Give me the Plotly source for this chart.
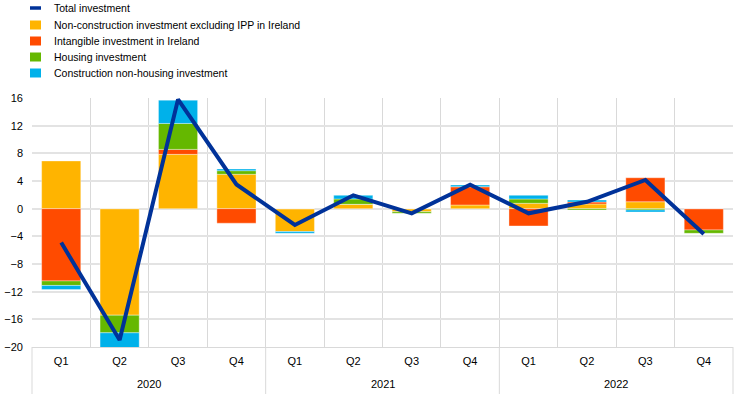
import plotly.graph_objects as go

years = ["2020"] * 4 + ["2021"] * 4 + ["2022"] * 4
quarters = ["Q1", "Q2", "Q3", "Q4"] * 3
year_labels = ["2020", "2021", "2022"]

total = [-4.9, -19.0, 15.8, 3.5, -2.35, 1.93, -0.67, 3.47, -0.67, 1.0, 4.15, -3.65]
non_construction = [6.9, -15.4, 7.85, 4.97, -3.3, 0.63, -0.43, 0.53, 0.78, 0.67, 1.0, 0.0]
intangible = [-10.45, 0.0, 0.72, -2.1, 0.0, 0.0, 0.0, 2.65, -2.5, 0.29, 3.47, -3.08]
housing = [-0.65, -2.55, 3.75, 0.52, 0.0, 0.77, -0.23, 0.0, 0.62, -0.19, -0.19, -0.48]
construction = [-0.6, -2.2, 3.37, 0.25, -0.25, 0.53, 0.0, 0.25, 0.53, 0.29, -0.29, 0.0]

names = [
    "Total investment",
    "Non-construction investment excluding IPP in Ireland",
    "Intangible investment in Ireland",
    "Housing investment",
    "Construction non-housing investment",
]
colors = ["#003299", "#FFB400", "#FF4B00", "#65B800", "#00B1EA"]

x = [f"{y} {q}" for y, q in zip(years, quarters)]

fig = go.Figure()
for vals, nm, col in zip([non_construction, intangible, housing, construction], names[1:], colors[1:]):
    fig.add_trace(go.Bar(x=x, y=vals, name=nm,
                         marker=dict(color=col, line=dict(width=0.8, color="rgba(255,255,255,0.45)")),
                         showlegend=False, hoverinfo="skip"))
fig.add_trace(go.Scatter(x=x, y=total, name=names[0], mode="lines",
                         line=dict(color=colors[0], width=4), showlegend=False))

fam = "Liberation Sans, Arial, sans-serif"
tickfont = dict(family=fam, size=11, color="#000000")
legfont = dict(family=fam, size=10.5, color="#000000")

# plot area in pixels: left 32, right 733, top 98, bottom 347
PL, PR, PT, PB = 32, 733, 98, 347
W, H = PR - PL, PB - PT


def px_x(p):
    return (p - PL) / W


def px_y(p):
    return (PB - p) / H


shapes = []
annotations = []
# manual legend
leg_rows = [8, 25, 41, 57, 73]
for i, (nm, col) in enumerate(zip(names, colors)):
    yc = leg_rows[i]
    if i == 0:
        shapes.append(dict(type="line", xref="paper", yref="paper",
                           x0=px_x(30), x1=px_x(41), y0=px_y(yc), y1=px_y(yc),
                           line=dict(color=col, width=3.5)))
    else:
        shapes.append(dict(type="rect", xref="paper", yref="paper",
                           x0=px_x(30), x1=px_x(41), y0=px_y(yc - 4.5), y1=px_y(yc + 4.5),
                           fillcolor=col, line=dict(width=0)))
    annotations.append(dict(text=nm, xref="paper", yref="paper", x=px_x(52), y=px_y(yc),
                            xanchor="left", yanchor="middle", showarrow=False, font=legfont))

# year labels and dividers
for k, yl in enumerate(year_labels):
    annotations.append(dict(text=yl, xref="paper", yref="paper", x=(k * 4 + 2) / 12,
                            y=px_y(383.5), xanchor="center", yanchor="middle",
                            showarrow=False, font=tickfont))
for k in range(4):
    shapes.append(dict(type="line", xref="paper", yref="paper", x0=k / 3, x1=k / 3,
                       y0=0, y1=px_y(394), line=dict(color="#d9d9d9", width=1)))

fig.update_layout(
    width=742, height=394,
    margin=dict(l=PL, r=742 - PR, t=PT, b=394 - PB, autoexpand=False),
    barmode="relative",
    bargap=0.33,
    plot_bgcolor="white", paper_bgcolor="white",
    font=tickfont,
    showlegend=False,
    shapes=shapes,
    annotations=annotations,
)
fig.update_yaxes(range=[-20, 16], dtick=4, tick0=0, gridcolor="#e3e3e3", gridwidth=1.5,
                 zeroline=False, showline=False, ticks="", tickfont=tickfont,
                 ticklabelstandoff=8)
fig.update_xaxes(type="category", tickson="boundaries", showgrid=True, gridcolor="#d9d9d9",
                 gridwidth=1, showline=True, linecolor="#d9d9d9", ticks="",
                 tickvals=x, ticktext=quarters, tickfont=tickfont, ticklabelstandoff=4)

fig.write_html("out.html", config={"displayModeBar": False},
               post_script="document.body.style.margin='0';")
